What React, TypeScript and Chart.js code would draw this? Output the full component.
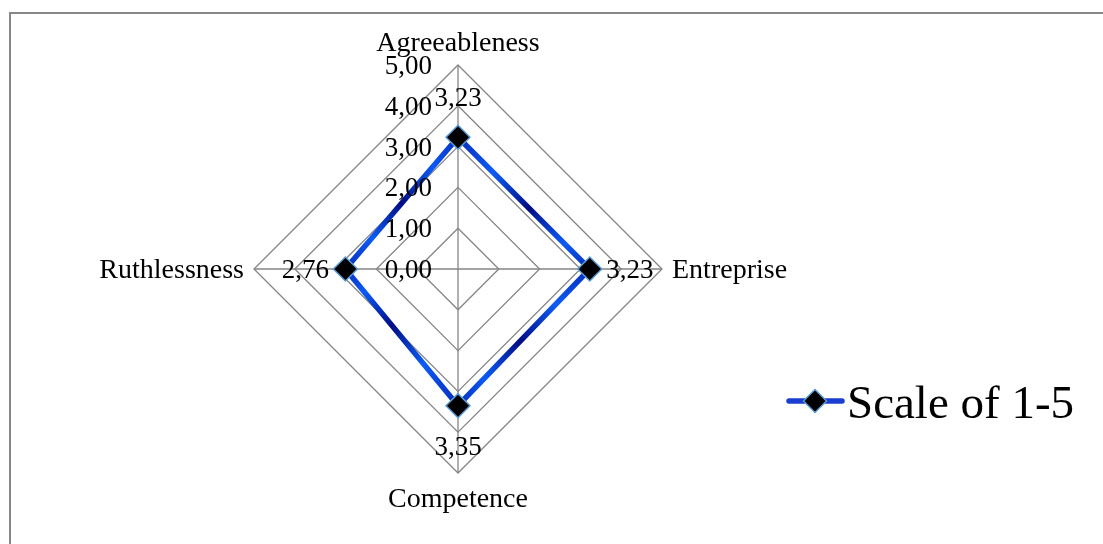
import React, { useEffect, useRef } from "react";
import { Chart, registerables } from "chart.js";

Chart.register(...registerables);

// ---- data ----
const categories = ["Agreeableness", "Entreprise", "Competence", "Ruthlessness"];
const values = [3.23, 3.23, 3.35, 2.76];
const tickValues = [0, 1, 2, 3, 4, 5];
const seriesName = "Scale of 1-5";
const scaleMin = 0;
const scaleMax = 5;

const FONT = '"Liberation Serif", "Times New Roman", serif';
const fmt = (v: number) => v.toFixed(2).replace(".", ",");

const quarterStops: [number, string][] = [
  [0, "#0830c0"],
  [0.22, "#0d5cf5"],
  [0.55, "#000c82"],
  [0.85, "#0c5af5"],
  [1, "#0830c0"],
];

const lineColor = (c: any) => {
  const chart = c.chart;
  const s = chart && chart.scales && chart.scales.r;
  const ctx = chart && chart.ctx;
  if (!s || s.xCenter == null || !ctx || typeof ctx.createConicGradient !== "function") {
    return "#0a3fd0";
  }
  const g = ctx.createConicGradient(-Math.PI / 2, s.xCenter, s.yCenter);
  for (let q = 0; q < 4; q++) {
    quarterStops.forEach(([o, col]) => {
      const pos = Math.min(1, (q + o) / 4);
      g.addColorStop(pos, col);
    });
  }
  return g;
};

const labelsPlugin = {
  id: "excelLabels",
  afterDatasetsDraw(chart: any) {
    const ctx = chart.ctx as CanvasRenderingContext2D;
    const scale = chart.scales.r;
    ctx.save();
    ctx.fillStyle = "#000";
    ctx.textBaseline = "alphabetic";

    // tick labels
    ctx.font = `27px ${FONT}`;
    ctx.textAlign = "right";
    tickValues.forEach((t) => {
      const d = scale.getDistanceFromCenterForValue(t);
      ctx.fillText(fmt(t), scale.xCenter - 26, scale.yCenter - d + 9);
    });

    // category labels
    ctx.font = `28px ${FONT}`;
    categories.forEach((c, i) => {
      const p = scale.getPointPositionForValue(i, scaleMax);
      const a = scale.getIndexAngle(i) - Math.PI / 2;
      const cos = Math.cos(a);
      const sin = Math.sin(a);
      let x = p.x;
      let y = p.y + 9;
      if (Math.abs(cos) < 0.01) ctx.textAlign = "center";
      else if (cos > 0) {
        ctx.textAlign = "left";
        x += 10;
      } else {
        ctx.textAlign = "right";
        x -= 10;
      }
      if (sin < -0.5) y = p.y - 14;
      else if (sin > 0.5) y = p.y + 34;
      ctx.fillText(c, x, y);
    });

    // data labels
    ctx.font = `27px ${FONT}`;
    ctx.textAlign = "center";
    values.forEach((v, i) => {
      const p = scale.getPointPositionForValue(i, v);
      const a = scale.getIndexAngle(i) - Math.PI / 2;
      const cx = p.x + 40 * Math.cos(a);
      const cy = p.y + 40 * Math.sin(a);
      ctx.fillText(fmt(v), cx, cy + 9);
    });
    ctx.restore();
  },
  afterDraw(chart: any) {
    const ctx = chart.ctx as CanvasRenderingContext2D;
    const ds = chart.data.datasets[0];
    ctx.save();
    // legend line
    ctx.strokeStyle = "#1a3fd0";
    ctx.lineWidth = 5.5;
    ctx.lineCap = "round";
    ctx.beginPath();
    ctx.moveTo(789, 401);
    ctx.lineTo(842, 401);
    ctx.stroke();
    // legend marker
    const r = 11.5;
    const mx = 815;
    const my = 401;
    ctx.beginPath();
    ctx.moveTo(mx - r, my);
    ctx.lineTo(mx, my - r);
    ctx.lineTo(mx + r, my);
    ctx.lineTo(mx, my + r);
    ctx.closePath();
    ctx.fillStyle = "#000";
    ctx.fill();
    ctx.lineWidth = 1.5;
    ctx.strokeStyle = "#5b9bd5";
    ctx.stroke();
    // legend text
    ctx.fillStyle = "#000";
    ctx.font = `47px ${FONT}`;
    ctx.textAlign = "left";
    ctx.textBaseline = "alphabetic";
    ctx.fillText(ds.label, 847, 418);
    ctx.restore();
  },
};

export default function App() {
  const ref = useRef<HTMLCanvasElement | null>(null);

  useEffect(() => {
    if (!ref.current) return;
    const chart = new Chart(ref.current, {
      type: "radar",
      data: {
        labels: categories,
        datasets: [
          {
            label: seriesName,
            data: values,
            borderColor: lineColor,
            borderWidth: 5.5,
            fill: false,
            tension: 0,
            pointStyle: "rectRot",
            pointRadius: 12,
            pointHoverRadius: 12,
            pointBackgroundColor: "#000",
            pointBorderColor: "#5b9bd5",
            pointBorderWidth: 1.5,
          } as any,
        ],
      },
      options: {
        responsive: false,
        animation: false,
        devicePixelRatio: 1,
        layout: { padding: { left: 254, right: 441, top: 65, bottom: 71 } },
        plugins: { legend: { display: false }, tooltip: { enabled: false } },
        scales: {
          r: {
            min: scaleMin,
            max: scaleMax,
            ticks: { display: false, stepSize: 1 },
            grid: { color: "#858585", lineWidth: 1.3 },
            angleLines: { color: "#858585", lineWidth: 1.3 },
            pointLabels: { display: false },
          },
        },
      },
      plugins: [labelsPlugin],
    });
    return () => chart.destroy();
  }, []);

  return (
    <div>
      <div
        style={{
          position: "fixed",
          left: 9,
          top: 12,
          width: 1300,
          height: 800,
          borderTop: "2px solid #878787",
          borderLeft: "2px solid #878787",
          boxSizing: "border-box",
          background: "#fff",
        }}
      />
      <canvas
        ref={ref}
        width={1103}
        height={544}
        style={{ position: "fixed", left: 0, top: 0 }}
      />
    </div>
  );
}
